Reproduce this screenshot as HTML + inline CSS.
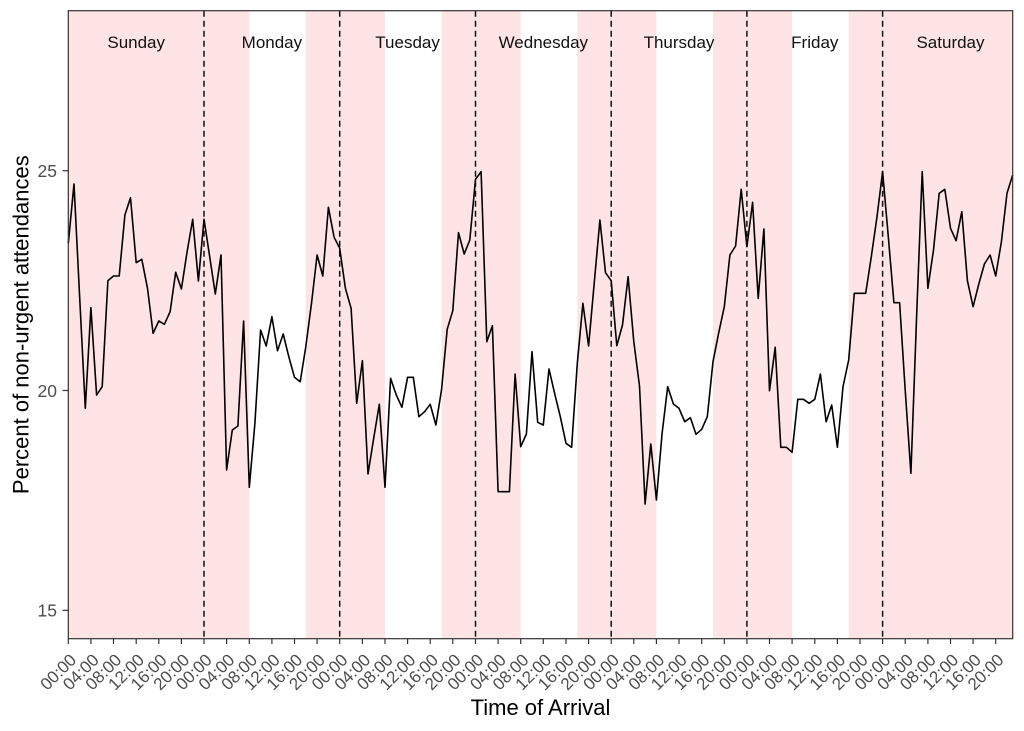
<!DOCTYPE html>
<html>
<head>
<meta charset="utf-8">
<style>
  html, body { margin: 0; padding: 0; background: #ffffff; }
  svg { display: block; }
  text { font-family: "Liberation Sans", Arial, sans-serif; }
</style>
</head>
<body>
<svg width="1024" height="731" viewBox="0 0 1024 731" xmlns="http://www.w3.org/2000/svg">
  <rect x="0" y="0" width="1024" height="731" fill="#ffffff"/>
  <rect x="68.3" y="10.7" width="944.4" height="628" fill="#ffffff"/>
  <g fill="#FFE4E5">
    <rect x="68.3" y="10.7" width="181.0" height="628"/>
    <rect x="305.8" y="10.7" width="79.2" height="628"/>
    <rect x="441.5" y="10.7" width="79.2" height="628"/>
    <rect x="577.3" y="10.7" width="79.1" height="628"/>
    <rect x="713.0" y="10.7" width="79.1" height="628"/>
    <rect x="848.7" y="10.7" width="164.0" height="628"/>
  </g>
  <g stroke="#111" stroke-width="1.5" stroke-dasharray="6,4" fill="none">
    <line x1="204.0" y1="10.7" x2="204.0" y2="638.7"/>
    <line x1="339.7" y1="10.7" x2="339.7" y2="638.7"/>
    <line x1="475.5" y1="10.7" x2="475.5" y2="638.7"/>
    <line x1="611.2" y1="10.7" x2="611.2" y2="638.7"/>
    <line x1="746.9" y1="10.7" x2="746.9" y2="638.7"/>
    <line x1="882.6" y1="10.7" x2="882.6" y2="638.7"/>
  </g>
  <g font-size="17" fill="#111" text-anchor="middle">
    <text x="136.2" y="48">Sunday</text>
    <text x="271.9" y="48">Monday</text>
    <text x="407.6" y="48">Tuesday</text>
    <text x="543.3" y="48">Wednesday</text>
    <text x="679.0" y="48">Thursday</text>
    <text x="814.8" y="48">Friday</text>
    <text x="950.5" y="48">Saturday</text>
  </g>
  <polyline fill="none" stroke="#000" stroke-width="1.6" stroke-linejoin="round" points="
68.3,243.3 74.0,184 79.6,296 85.3,408.3 90.9,307.7 96.6,395 102.2,386.7 107.9,280.7 113.5,276 119.2,276
124.9,215 130.5,197.7 136.2,262.7 141.8,259.3 147.5,288.3 153.1,333.3 158.8,321 164.4,324.3 170.1,311.7 175.7,272.3
181.4,289 187.1,251.7 192.7,219.3 198.4,281 204.0,219.3 209.7,256.7 215.3,294 221.0,255 226.6,470 232.3,430
237.9,426 243.6,321 249.3,487.3 254.9,423.3 260.6,330 266.2,346 271.9,316.7 277.5,350.7 283.2,334 288.8,356.7
294.5,377.3 300.2,381.7 305.8,346.7 311.5,303.3 317.1,255 322.8,276 328.4,207.3 334.1,237.3 339.7,248.3 345.4,288.3
351.1,308.3 356.7,403.3 362.4,360.7 368.0,474 373.7,438.3 379.3,404.3 385.0,487.3 390.6,378.3 396.3,395 401.9,407.3
407.6,377.3 413.3,377.3 418.9,416.7 424.6,411.7 430.2,404.3 435.9,425 441.5,390 447.2,329.3 452.8,310.7 458.5,232.7
464.2,254 469.8,240 475.5,179.3 481.1,171.7 486.8,341.7 492.4,325.7 498.1,491.7 503.7,491.7 509.4,491.7 515.1,374
520.7,446.7 526.4,434 532.0,351.7 537.7,422.3 543.3,425 549.0,369 554.6,393.3 560.3,416.7 566.0,443.3 571.6,447.3
577.3,363.3 582.9,303.3 588.6,346 594.2,283.3 599.9,220 605.5,272.7 611.2,280.7 616.8,345.7 622.5,325 628.1,276.7
633.8,341.7 639.5,386 645.1,504 650.8,444 656.4,500 662.1,433.3 667.7,386.7 673.4,404 679.0,408.3 684.7,421.7
690.4,417.7 696.0,434.3 701.7,429.3 707.3,416.7 713.0,361.7 718.6,333.3 724.3,306.7 729.9,255 735.6,246 741.2,189.3
746.9,246.7 752.6,202.3 758.2,298.3 763.9,229 769.5,390.7 775.2,347.3 780.8,447.3 786.5,447.3 792.1,452.3 797.8,399.3
803.5,399.3 809.1,403.3 814.8,399.3 820.4,374 826.1,421.7 831.7,405 837.4,447.3 843.0,386.7 848.7,360 854.3,293.3
860.0,293.3 865.7,293.3 871.3,256.7 877.0,216.7 882.6,171.7 888.3,236.7 893.9,302.7 899.6,302.7 905.2,390 910.9,473.3
916.6,316.7 922.2,171.7 927.9,288.3 933.5,250 939.2,193.3 944.8,189.3 950.5,228.3 956.1,240.7 961.8,211.7 967.4,280.7
973.1,306.7 978.8,284 984.4,264 990.1,255 995.7,276 1001.4,241.7 1007.0,193.3 1012.7,175"/>
  <rect x="68.3" y="10.7" width="944.4" height="628" fill="none" stroke="#333" stroke-width="1.2"/>
  <g stroke="#333" stroke-width="1.2">
    <line x1="62.5" y1="170.7" x2="68.3" y2="170.7"/>
    <line x1="62.5" y1="390.5" x2="68.3" y2="390.5"/>
    <line x1="62.5" y1="610.3" x2="68.3" y2="610.3"/>
  </g>
  <g font-size="17.5" fill="#4D4D4D" text-anchor="end">
    <text x="57" y="177">25</text>
    <text x="57" y="396.8">20</text>
    <text x="57" y="616.6">15</text>
  </g>
  <g stroke="#333" stroke-width="1.2">
    <line x1="68.3" y1="638.7" x2="68.3" y2="644"/>
    <line x1="90.9" y1="638.7" x2="90.9" y2="644"/>
    <line x1="113.5" y1="638.7" x2="113.5" y2="644"/>
    <line x1="136.2" y1="638.7" x2="136.2" y2="644"/>
    <line x1="158.8" y1="638.7" x2="158.8" y2="644"/>
    <line x1="181.4" y1="638.7" x2="181.4" y2="644"/>
    <line x1="204.0" y1="638.7" x2="204.0" y2="644"/>
    <line x1="226.6" y1="638.7" x2="226.6" y2="644"/>
    <line x1="249.3" y1="638.7" x2="249.3" y2="644"/>
    <line x1="271.9" y1="638.7" x2="271.9" y2="644"/>
    <line x1="294.5" y1="638.7" x2="294.5" y2="644"/>
    <line x1="317.1" y1="638.7" x2="317.1" y2="644"/>
    <line x1="339.7" y1="638.7" x2="339.7" y2="644"/>
    <line x1="362.4" y1="638.7" x2="362.4" y2="644"/>
    <line x1="385.0" y1="638.7" x2="385.0" y2="644"/>
    <line x1="407.6" y1="638.7" x2="407.6" y2="644"/>
    <line x1="430.2" y1="638.7" x2="430.2" y2="644"/>
    <line x1="452.8" y1="638.7" x2="452.8" y2="644"/>
    <line x1="475.5" y1="638.7" x2="475.5" y2="644"/>
    <line x1="498.1" y1="638.7" x2="498.1" y2="644"/>
    <line x1="520.7" y1="638.7" x2="520.7" y2="644"/>
    <line x1="543.3" y1="638.7" x2="543.3" y2="644"/>
    <line x1="566.0" y1="638.7" x2="566.0" y2="644"/>
    <line x1="588.6" y1="638.7" x2="588.6" y2="644"/>
    <line x1="611.2" y1="638.7" x2="611.2" y2="644"/>
    <line x1="633.8" y1="638.7" x2="633.8" y2="644"/>
    <line x1="656.4" y1="638.7" x2="656.4" y2="644"/>
    <line x1="679.0" y1="638.7" x2="679.0" y2="644"/>
    <line x1="701.7" y1="638.7" x2="701.7" y2="644"/>
    <line x1="724.3" y1="638.7" x2="724.3" y2="644"/>
    <line x1="746.9" y1="638.7" x2="746.9" y2="644"/>
    <line x1="769.5" y1="638.7" x2="769.5" y2="644"/>
    <line x1="792.1" y1="638.7" x2="792.1" y2="644"/>
    <line x1="814.8" y1="638.7" x2="814.8" y2="644"/>
    <line x1="837.4" y1="638.7" x2="837.4" y2="644"/>
    <line x1="860.0" y1="638.7" x2="860.0" y2="644"/>
    <line x1="882.6" y1="638.7" x2="882.6" y2="644"/>
    <line x1="905.2" y1="638.7" x2="905.2" y2="644"/>
    <line x1="927.9" y1="638.7" x2="927.9" y2="644"/>
    <line x1="950.5" y1="638.7" x2="950.5" y2="644"/>
    <line x1="973.1" y1="638.7" x2="973.1" y2="644"/>
    <line x1="995.7" y1="638.7" x2="995.7" y2="644"/>
  </g>
  <g font-size="17" fill="#4D4D4D" text-anchor="end">
    <text transform="translate(77.3,661) rotate(-45)">00:00</text>
    <text transform="translate(99.9,661) rotate(-45)">04:00</text>
    <text transform="translate(122.5,661) rotate(-45)">08:00</text>
    <text transform="translate(145.2,661) rotate(-45)">12:00</text>
    <text transform="translate(167.8,661) rotate(-45)">16:00</text>
    <text transform="translate(190.4,661) rotate(-45)">20:00</text>
    <text transform="translate(213.0,661) rotate(-45)">00:00</text>
    <text transform="translate(235.6,661) rotate(-45)">04:00</text>
    <text transform="translate(258.3,661) rotate(-45)">08:00</text>
    <text transform="translate(280.9,661) rotate(-45)">12:00</text>
    <text transform="translate(303.5,661) rotate(-45)">16:00</text>
    <text transform="translate(326.1,661) rotate(-45)">20:00</text>
    <text transform="translate(348.7,661) rotate(-45)">00:00</text>
    <text transform="translate(371.4,661) rotate(-45)">04:00</text>
    <text transform="translate(394.0,661) rotate(-45)">08:00</text>
    <text transform="translate(416.6,661) rotate(-45)">12:00</text>
    <text transform="translate(439.2,661) rotate(-45)">16:00</text>
    <text transform="translate(461.8,661) rotate(-45)">20:00</text>
    <text transform="translate(484.5,661) rotate(-45)">00:00</text>
    <text transform="translate(507.1,661) rotate(-45)">04:00</text>
    <text transform="translate(529.7,661) rotate(-45)">08:00</text>
    <text transform="translate(552.3,661) rotate(-45)">12:00</text>
    <text transform="translate(575.0,661) rotate(-45)">16:00</text>
    <text transform="translate(597.6,661) rotate(-45)">20:00</text>
    <text transform="translate(620.2,661) rotate(-45)">00:00</text>
    <text transform="translate(642.8,661) rotate(-45)">04:00</text>
    <text transform="translate(665.4,661) rotate(-45)">08:00</text>
    <text transform="translate(688.0,661) rotate(-45)">12:00</text>
    <text transform="translate(710.7,661) rotate(-45)">16:00</text>
    <text transform="translate(733.3,661) rotate(-45)">20:00</text>
    <text transform="translate(755.9,661) rotate(-45)">00:00</text>
    <text transform="translate(778.5,661) rotate(-45)">04:00</text>
    <text transform="translate(801.1,661) rotate(-45)">08:00</text>
    <text transform="translate(823.8,661) rotate(-45)">12:00</text>
    <text transform="translate(846.4,661) rotate(-45)">16:00</text>
    <text transform="translate(869.0,661) rotate(-45)">20:00</text>
    <text transform="translate(891.6,661) rotate(-45)">00:00</text>
    <text transform="translate(914.2,661) rotate(-45)">04:00</text>
    <text transform="translate(936.9,661) rotate(-45)">08:00</text>
    <text transform="translate(959.5,661) rotate(-45)">12:00</text>
    <text transform="translate(982.1,661) rotate(-45)">16:00</text>
    <text transform="translate(1004.7,661) rotate(-45)">20:00</text>
  </g>
  <text x="540.5" y="715" font-size="22" fill="#000" text-anchor="middle">Time of Arrival</text>
  <text transform="translate(28.3,324.7) rotate(-90)" font-size="22" fill="#000" text-anchor="middle">Percent of non-urgent attendances</text>
</svg>
</body>
</html>
